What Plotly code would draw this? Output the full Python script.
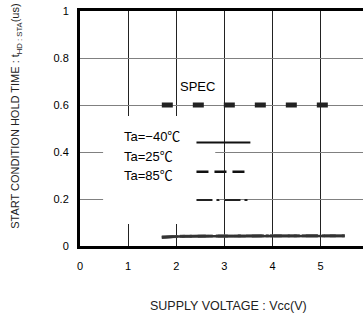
import plotly.graph_objects as go

# ---- data ----
vcc = [1.7, 2.0, 2.5, 3.0, 3.5, 4.0, 4.5, 5.0, 5.5]
t_m40 = [0.036, 0.040, 0.042, 0.042, 0.043, 0.043, 0.043, 0.043, 0.043]
t_25 = [0.037, 0.041, 0.042, 0.043, 0.043, 0.043, 0.044, 0.043, 0.044]
t_85 = [0.038, 0.041, 0.043, 0.043, 0.044, 0.044, 0.044, 0.044, 0.044]
spec_x = [1.7, 5.15]
spec_y = [0.6, 0.6]
x_ticks = [0, 1, 2, 3, 4, 5]
y_ticks = [0, 0.2, 0.4, 0.6, 0.8, 1]
y_ticklabels = ["0", "0.2", "0.4", "0.6", "0.8", "1"]
legend_labels = ["Ta=\u221240\u2103", "Ta=25\u2103", "Ta=85\u2103"]

FONT = "Arial, Liberation Sans, Noto Sans CJK JP, sans-serif"

fig = go.Figure()

fig.add_trace(go.Scatter(x=spec_x, y=spec_y, mode="lines",
                         line=dict(color="#222222", width=5, dash="11px,20px"),
                         showlegend=False, hoverinfo="skip"))
fig.add_trace(go.Scatter(x=vcc, y=t_85, mode="lines",
                         line=dict(color="#666666", width=3, dash="16px,4px,3px,5px"),
                         showlegend=False))
fig.add_trace(go.Scatter(x=vcc, y=t_25, mode="lines",
                         line=dict(color="#555555", width=3, dash="12px,6px"),
                         showlegend=False))
fig.add_trace(go.Scatter(x=vcc, y=t_m40, mode="lines",
                         line=dict(color="#333333", width=2.5),
                         showlegend=False))

shapes = [
    # white box behind legend
    dict(type="rect", xref="x", yref="y", x0=0.48, x1=2.81, y0=0.094, y1=0.553,
         fillcolor="white", line=dict(width=0), layer="between"),
    dict(type="rect", xref="x", yref="y", x0=2.42, x1=2.9, y0=0.18, y1=0.215,
         fillcolor="white", line=dict(width=0), layer="between"),
    # legend keys
    dict(type="line", xref="x", yref="y", x0=2.42, x1=3.54, y0=0.44, y1=0.44,
         line=dict(color="#111111", width=2)),
    dict(type="line", xref="x", yref="y", x0=2.42, x1=3.54, y0=0.316, y1=0.316,
         line=dict(color="#111111", width=2.5, dash="12px,6px")),
    dict(type="line", xref="x", yref="y", x0=2.42, x1=3.54, y0=0.196, y1=0.196,
         line=dict(color="#222222", width=2, dash="16px,4px,3px,5px")),
]

annotations = [
    dict(text="SPEC", x=2.45, y=0.68, xref="x", yref="y", showarrow=False,
         font=dict(size=13, color="black", family=FONT)),
]
for lab, yy in zip(legend_labels, [0.464, 0.383, 0.302]):
    annotations.append(dict(text=lab, x=0.87, y=yy, xref="x", yref="y",
                            xanchor="left", showarrow=False,
                            font=dict(size=13, color="black", family=FONT)))
annotations.append(dict(
    text="START CONDITION HOLD TIME : t<sub>HD : STA</sub>(us)",
    x=-0.226, y=0.55, xref="paper", yref="paper", textangle=-90,
    showarrow=False, xanchor="center", yanchor="middle",
    font=dict(size=11, color="#222222", family=FONT)))
annotations.append(dict(
    text="SUPPLY VOLTAGE : Vcc(V)", x=0.523, y=-0.255, xref="paper", yref="paper",
    showarrow=False, xanchor="center", yanchor="middle",
    font=dict(size=12.5, color="#222222", family=FONT)))

fig.update_layout(
    width=363, height=313,
    margin=dict(l=80, r=0, t=11, b=67),
    paper_bgcolor="white", plot_bgcolor="white",
    hovermode=False,
    shapes=shapes, annotations=annotations,
    font=dict(family=FONT, size=11, color="black"),
    xaxis=dict(range=[0, 5.88], tickvals=x_ticks, ticks="", showgrid=True,
               gridcolor="#222222", gridwidth=1, zeroline=False,
               showline=True, linecolor="black", linewidth=3, mirror=True,
               ticklabelstandoff=8, tickfont=dict(size=11)),
    yaxis=dict(range=[0, 1], tickvals=y_ticks, ticktext=y_ticklabels, ticks="",
               showgrid=True, gridcolor="#808080", gridwidth=1, zeroline=False,
               showline=True, linecolor="black", linewidth=3,
               ticklabelstandoff=6, tickfont=dict(size=11),
               ticklabeloverflow="allow"),
)

# remove the browser's default 8px body margin so the figure sits at (0, 0)
fig.write_html("out.html", config={"displayModeBar": False},
               post_script="document.body.style.margin='0';")
